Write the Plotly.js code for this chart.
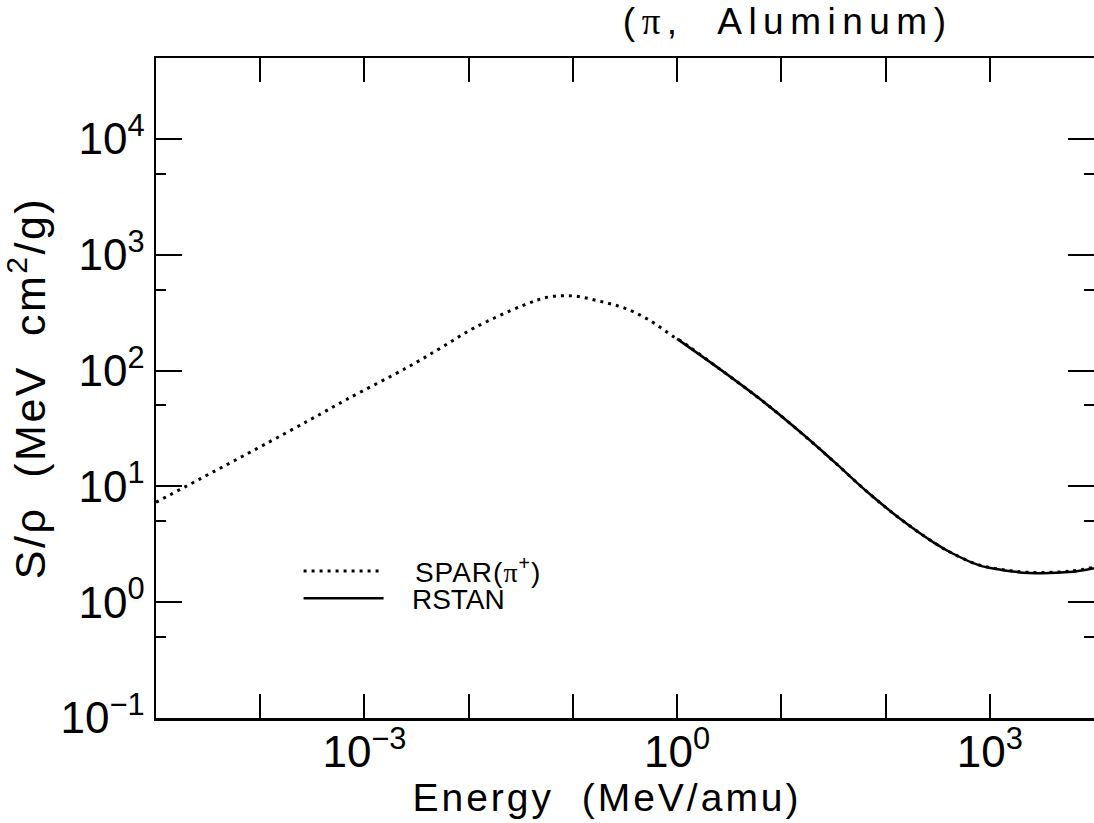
<!DOCTYPE html>
<html>
<head>
<meta charset="utf-8">
<script src="https://cdn.plot.ly/plotly-3.0.1.min.js"></script>
<style>
  html, body { margin: 0; padding: 0; background: #fff; }
  #chart { width: 1094px; height: 823px; }
  .gtitle { letter-spacing: 6.5px; }
  .xtitle { letter-spacing: 3px; transform: translate(-18px, -13px); }
  .ytitle { letter-spacing: 2.5px; }
  .legendtext { letter-spacing: 1px; }
</style>
</head>
<body>
<div id="chart"></div>
<script>
// ---- data ----
// SPAR(pi+) stopping power (dotted)
var sparEnergy = [1e-5, 9.1e-5, 3.1e-4, 6.9e-4, 2.6e-3, 5.4e-3, 0.0112, 0.0338, 0.059, 0.102, 0.178, 0.309, 0.537, 0.935, 1.09,
                  2.65, 6.43, 15.6, 32.4, 68.7, 143, 296, 431, 783, 1300, 2370, 5750, 10000];
var sparS      = [7.3, 21.0, 38.2, 57, 107, 157, 233, 368, 433, 441, 399, 348, 274, 195, 180,
                  101, 55.7, 28.9, 16.2, 8.77, 5.13, 3.24, 2.66, 2.10, 1.92, 1.81, 1.85, 2.0];
// RSTAN stopping power (solid)
var rstanEnergy = [1.0, 2.65, 6.43, 15.6, 32.4, 68.7, 143, 296, 431, 783, 1300, 2370, 5750, 10000];
var rstanS      = [188, 101, 55.7, 28.9, 16.2, 8.77, 5.13, 3.24, 2.66, 2.09, 1.90, 1.79, 1.82, 1.97];

// axis ticks
var xTickVals  = [1e-3, 1, 1000];
var xTickText  = ['10<sup>\u22123</sup>', '10<sup>0</sup>', '10<sup>3</sup>'];
var xMinorVals = [1e-5, 1e-4, 1e-2, 1e-1, 10, 100, 10000];
var yTickVals  = [0.1, 1, 10, 100, 1000, 10000];
var yTickText  = ['10<sup>\u22121</sup>', '10<sup>0</sup>', '10<sup>1</sup>', '10<sup>2</sup>', '10<sup>3</sup>', '10<sup>4</sup>'];
var yMinorVals = [0.5, 5, 50, 500, 5000];

var FONT = 'Liberation Sans, Arial, Helvetica, sans-serif';
var PAD = '\u00a0\u00a0\u00a0';

var traces = [
  {
    x: sparEnergy, y: sparS, type: 'scatter', mode: 'lines',
    name: PAD + 'SPAR(<span style="font-family:Liberation Serif">\u03c0</span><sup>+</sup>)',
    legend: 'legend',
    line: { color: '#000', width: 3, dash: '3px,5px', shape: 'spline', smoothing: 1 }
  },
  {
    x: rstanEnergy, y: rstanS, type: 'scatter', mode: 'lines',
    name: PAD + 'RSTAN',
    legend: 'legend2',
    line: { color: '#000', width: 2.5, shape: 'spline', smoothing: 1 }
  }
];

var legendStyle = function (y) {
  return {
    x: 0.152, xanchor: 'left', y: y, yanchor: 'top',
    bgcolor: 'rgba(0,0,0,0)', borderwidth: 0,
    font: { family: FONT, size: 28, color: '#000' },
    itemwidth: 80
  };
};

var layout = {
  width: 1094, height: 823,
  paper_bgcolor: '#fff', plot_bgcolor: '#fff',
  margin: { l: 156, r: 0, t: 58, b: 105 },
  font: { family: FONT, color: '#000' },
  title: {
    text: '(<span style="font-family:Liberation Serif">\u03c0</span>,  Aluminum)',
    font: { family: FONT, size: 37, color: '#000' },
    x: 0.72, xanchor: 'center', xref: 'container',
    y: 0.975, yanchor: 'middle', yref: 'container'
  },
  xaxis: {
    type: 'log', range: [-5, 4],
    showgrid: false, zeroline: false,
    showline: true, linecolor: '#000', linewidth: 2.5, mirror: 'ticks',
    ticks: 'inside', ticklen: 24, tickwidth: 2, tickcolor: '#000',
    tickmode: 'array', tickvals: xTickVals, ticktext: xTickText,
    ticklabelstandoff: -6,
    tickfont: { family: FONT, size: 44, color: '#000' },
    minor: { tickmode: 'array', tickvals: xMinorVals, ticks: 'inside', ticklen: 24, tickwidth: 2, tickcolor: '#000', showgrid: false },
    title: { text: 'Energy  (MeV/amu)', font: { family: FONT, size: 39, color: '#000' }, standoff: 2 }
  },
  yaxis: {
    type: 'log', range: [-1, 4.7],
    showgrid: false, zeroline: false,
    showline: true, linecolor: '#000', linewidth: 2.5, mirror: 'ticks',
    ticks: 'inside', ticklen: 26, tickwidth: 2, tickcolor: '#000',
    tickmode: 'array', tickvals: yTickVals, ticktext: yTickText,
    tickfont: { family: FONT, size: 44, color: '#000' },
    minor: { tickmode: 'array', tickvals: yMinorVals, ticks: 'inside', ticklen: 10, tickwidth: 2, tickcolor: '#000', showgrid: false },
    title: { text: 'S/\u03c1  (MeV  cm<sup>2</sup>/g)', font: { family: FONT, size: 43, color: '#000' }, standoff: 16 }
  },
  showlegend: true,
  legend: legendStyle(0.26),
  legend2: legendStyle(0.219)
};

Plotly.newPlot('chart', traces, layout, { displayModeBar: false, staticPlot: true });
</script>
</body>
</html>
